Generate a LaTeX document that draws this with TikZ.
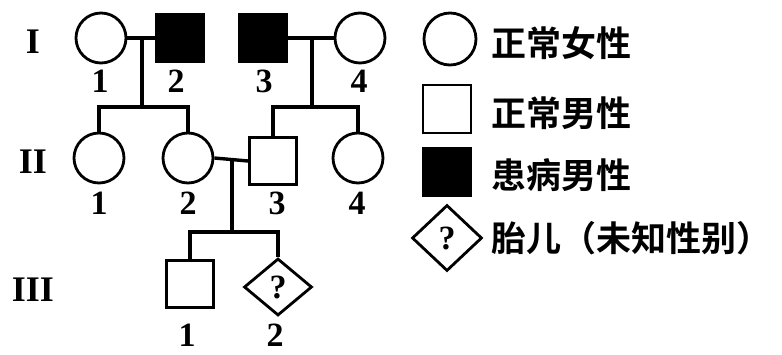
\documentclass[tikz,border=0pt]{standalone}
\usepackage{fontspec}
\setmainfont{Liberation Serif}
\newfontfamily\cjk{Noto Sans CJK SC}[BoldFont={* Bold}]
\usetikzlibrary{shapes.geometric}
\begin{document}
\begin{tikzpicture}[x=1pt,y=-1pt,
  fem/.style={circle,draw,line width=2.8pt,minimum size=50pt,inner sep=0pt},
  mal/.style={rectangle,draw,line width=2.8pt,minimum size=47pt,inner sep=0pt},
  aff/.style={mal,fill=black},
  fet/.style={diamond,draw,line width=2.8pt,minimum width=68pt,minimum height=57pt,inner sep=0pt,font=\fontsize{34}{36}\selectfont\bfseries},
  num/.style={font=\fontsize{34}{35}\selectfont\bfseries,inner sep=0pt},
  gen/.style={font=\fontsize{36}{38}\selectfont\bfseries,inner sep=0pt},
  conn/.style={draw,line width=3.4pt},
  leg/.style={font=\fontsize{35}{38}\cjk\bfseries,inner sep=0pt,anchor=west}]
\useasboundingbox (0,0) rectangle (782,354);
% generation labels
\node[gen] (gI) at (33,42) {I};
\node[gen] (gII) at (33,162) {II};
\node[gen] (gIII) at (33,290) {III};
% generation I
\node[fem] (I1) at (101,38) {};
\node[aff] (I2) at (180,38) {};
\node[aff] (I3) at (263,38) {};
\node[fem] (I4) at (360,38) {};
\node[num] (lI1) at (100,81) {1};
\node[num] (lI2) at (176,81) {2};
\node[num] (lI3) at (264,81) {3};
\node[num] (lI4) at (359,81) {4};
% generation II
\node[fem] (II1) at (99,158) {};
\node[fem] (II2) at (188,158) {};
\node[mal] (II3) at (273,161) {};
\node[fem] (II4) at (358,158) {};
\node[num] (lII1) at (99,203) {1};
\node[num] (lII2) at (188,203) {2};
\node[num] (lII3) at (277,203) {3};
\node[num] (lII4) at (357,203) {4};
% generation III
\node[mal] (III1) at (190,284) {};
\node[fet] (III2) at (278,287) {?};
\node[num] (lIII1) at (187,335) {1};
\node[num] (lIII2) at (275,335) {2};
% connectors
\coordinate (m1) at (142,40);
\coordinate (s1) at (142,107);
\coordinate (m2) at (312,40);
\coordinate (s2) at (312,107);
\coordinate (m3) at (232,159);
\coordinate (s3) at (232,232);
\path[conn] (I1.east) -- (I2.west);
\path[conn] (I3.east) -- (I4.west);
\path[conn] (m1) -- (s1);
\path[conn] (m2) -- (s2);
\path[conn] (II1.north) |- (s1) -| (II2.north);
\path[conn] (II3.north) |- (s2) -| (II4.north);
\path[conn] (II2.east) -- (II3.west);
\path[conn] (m3) -- (s3);
\path[conn] (III1.north) |- (s3) -| (III2.north);
% legend
\node[fem,minimum size=52pt] (Lf) at (450,39) {};
\node[mal,minimum size=48pt] (Lm) at (447,109) {};
\node[aff,minimum size=47pt] (La) at (447,172) {};
\node[fet,minimum width=70pt,minimum height=66pt] (Lq) at (447,238) {?};
\node[leg] (tf) at (491,43) {正常女性};
\node[leg] (tm) at (491,113) {正常男性};
\node[leg] (ta) at (491,175) {患病男性};
\node[leg] (tq) at (491,238) {胎儿（未知性别）};
\end{tikzpicture}
\end{document}
